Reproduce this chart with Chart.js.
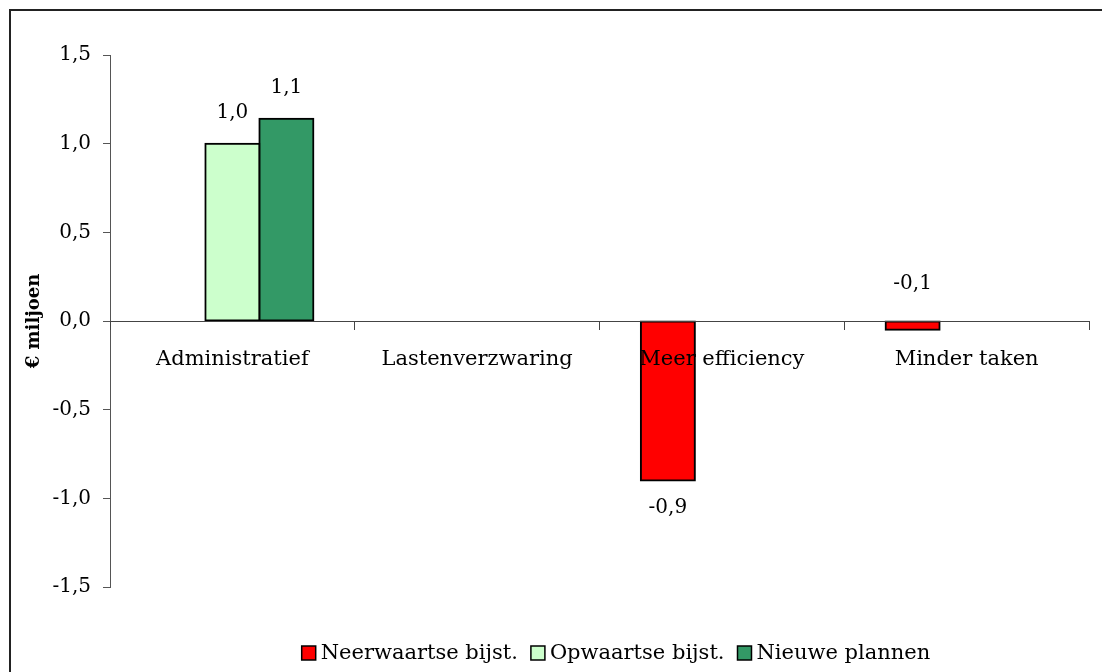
<!DOCTYPE html>
<html>
<head>
<meta charset="utf-8">
<script src="https://cdn.jsdelivr.net/npm/chart.js@4/dist/chart.umd.min.js"></script>
<style>
  html, body { margin: 0; padding: 0; background: #fff; }
  #wrap { width: 1102px; height: 672px; position: relative; }
</style>
</head>
<body>
<div id="wrap"><canvas id="c" width="1102" height="672"></canvas></div>
<script>
const categories = ['Administratief', 'Lastenverzwaring', 'Meer efficiency', 'Minder taken'];
const seriesNames = ['Neerwaartse bijst.', 'Opwaartse bijst.', 'Nieuwe plannen'];
const neerwaartse = [null, null, -0.90, -0.05];
const opwaartse = [1.0, null, null, null];
const nieuwePlannen = [1.14, null, null, null];
const yTicks = [-1.5, -1.0, -0.5, 0.0, 0.5, 1.0, 1.5];
const yTitle = '€ miljoen';

const colors = ['#FF0000', '#CCFFCC', '#339966'];
const FONT = "'DejaVu Serif', serif";

const fmt = v => v.toFixed(1).replace('.', ',');

const frame = {
  id: 'frame',
  beforeDraw(chart) {
    const ctx = chart.ctx;
    ctx.save();
    ctx.fillStyle = '#fff';
    ctx.fillRect(0, 0, chart.width, chart.height);
    ctx.strokeStyle = '#222';
    ctx.lineWidth = 2;
    ctx.beginPath();
    ctx.moveTo(10, chart.height + 5);
    ctx.lineTo(10, 10);
    ctx.lineTo(chart.width + 5, 10);
    ctx.stroke();
    ctx.restore();
  }
};

const valueLabels = {
  id: 'valueLabels',
  afterDatasetsDraw(chart) {
    const ctx = chart.ctx;
    const yScale = chart.scales.y;
    const zero = yScale.getPixelForValue(0);
    ctx.save();
    ctx.font = "20px " + FONT;
    ctx.fillStyle = '#000';
    ctx.textAlign = 'center';
    ctx.textBaseline = 'middle';
    chart.data.datasets.forEach((ds, di) => {
      const meta = chart.getDatasetMeta(di);
      meta.data.forEach((el, i) => {
        const v = ds.data[i];
        if (v === null || v === undefined) return;
        let y;
        if (v >= 0) y = el.y - 31;
        else if (Math.abs(v) < 0.1) y = zero - 37;
        else y = el.y + 27;
        ctx.fillText(fmt(v), el.x, y);
      });
    });
    ctx.restore();
  }
};

const bottomLegend = {
  id: 'bottomLegend',
  afterDraw(chart) {
    const ctx = chart.ctx;
    ctx.save();
    ctx.font = "21px " + FONT;
    const box = 14, gapText = 5, gapItem = 13;
    const widths = seriesNames.map(n => box + gapText + ctx.measureText(n).width);
    const total = widths.reduce((a, b) => a + b, 0) + gapItem * (seriesNames.length - 1);
    let x = 616 - total / 2;
    const cy = 653;
    ctx.textBaseline = 'middle';
    ctx.textAlign = 'left';
    seriesNames.forEach((n, i) => {
      ctx.fillStyle = colors[i];
      ctx.fillRect(x, cy - box / 2, box, box);
      ctx.strokeStyle = '#000';
      ctx.lineWidth = 1.5;
      ctx.strokeRect(x, cy - box / 2, box, box);
      ctx.fillStyle = '#000';
      ctx.fillText(n, x + box + gapText, cy + 1);
      x += widths[i] + gapItem;
    });
    ctx.restore();
  }
};

new Chart(document.getElementById('c'), {
  type: 'bar',
  data: {
    labels: categories,
    datasets: [
      { label: seriesNames[0], data: neerwaartse, backgroundColor: colors[0] },
      { label: seriesNames[1], data: opwaartse, backgroundColor: colors[1] },
      { label: seriesNames[2], data: nieuwePlannen, backgroundColor: colors[2] }
    ].map(d => Object.assign(d, {
      borderColor: '#000', borderWidth: 2, borderSkipped: false,
      categoryPercentage: 0.662, barPercentage: 1.0, inflateAmount: 1
    }))
  },
  options: {
    responsive: false,
    animation: false,
    devicePixelRatio: 1,
    layout: { padding: { left: 0, right: 13, top: 55, bottom: 85 } },
    plugins: { legend: { display: false }, tooltip: { enabled: false } },
    scales: {
      x: {
        position: { y: 0 },
        grid: { display: true, drawOnChartArea: false, drawTicks: true, tickLength: 8, color: '#444', offset: true, z: 1 },
        border: { display: true, color: '#444', width: 1, z: 1 },
        ticks: { z: 1, color: '#000', font: { family: FONT, size: 21 }, padding: 18, maxRotation: 0, autoSkip: false }
      },
      y: {
        min: yTicks[0], max: yTicks[yTicks.length - 1],
        afterFit(scale) { scale.width = 110; },
        afterBuildTicks(scale) { scale.ticks = yTicks.map(v => ({ value: v })); },
        grid: { display: true, drawOnChartArea: false, drawTicks: true, tickLength: 7, color: '#555' },
        border: { display: true, color: '#555', width: 1 },
        ticks: { color: '#000', font: { family: FONT, size: 20 }, padding: 12, callback: v => fmt(v) },
        title: { display: true, text: yTitle, color: '#000', font: { family: FONT, size: 18, weight: 'bold' }, padding: { top: 24, bottom: 0 } }
      }
    }
  },
  plugins: [frame, valueLabels, bottomLegend]
});
</script>
</body>
</html>
